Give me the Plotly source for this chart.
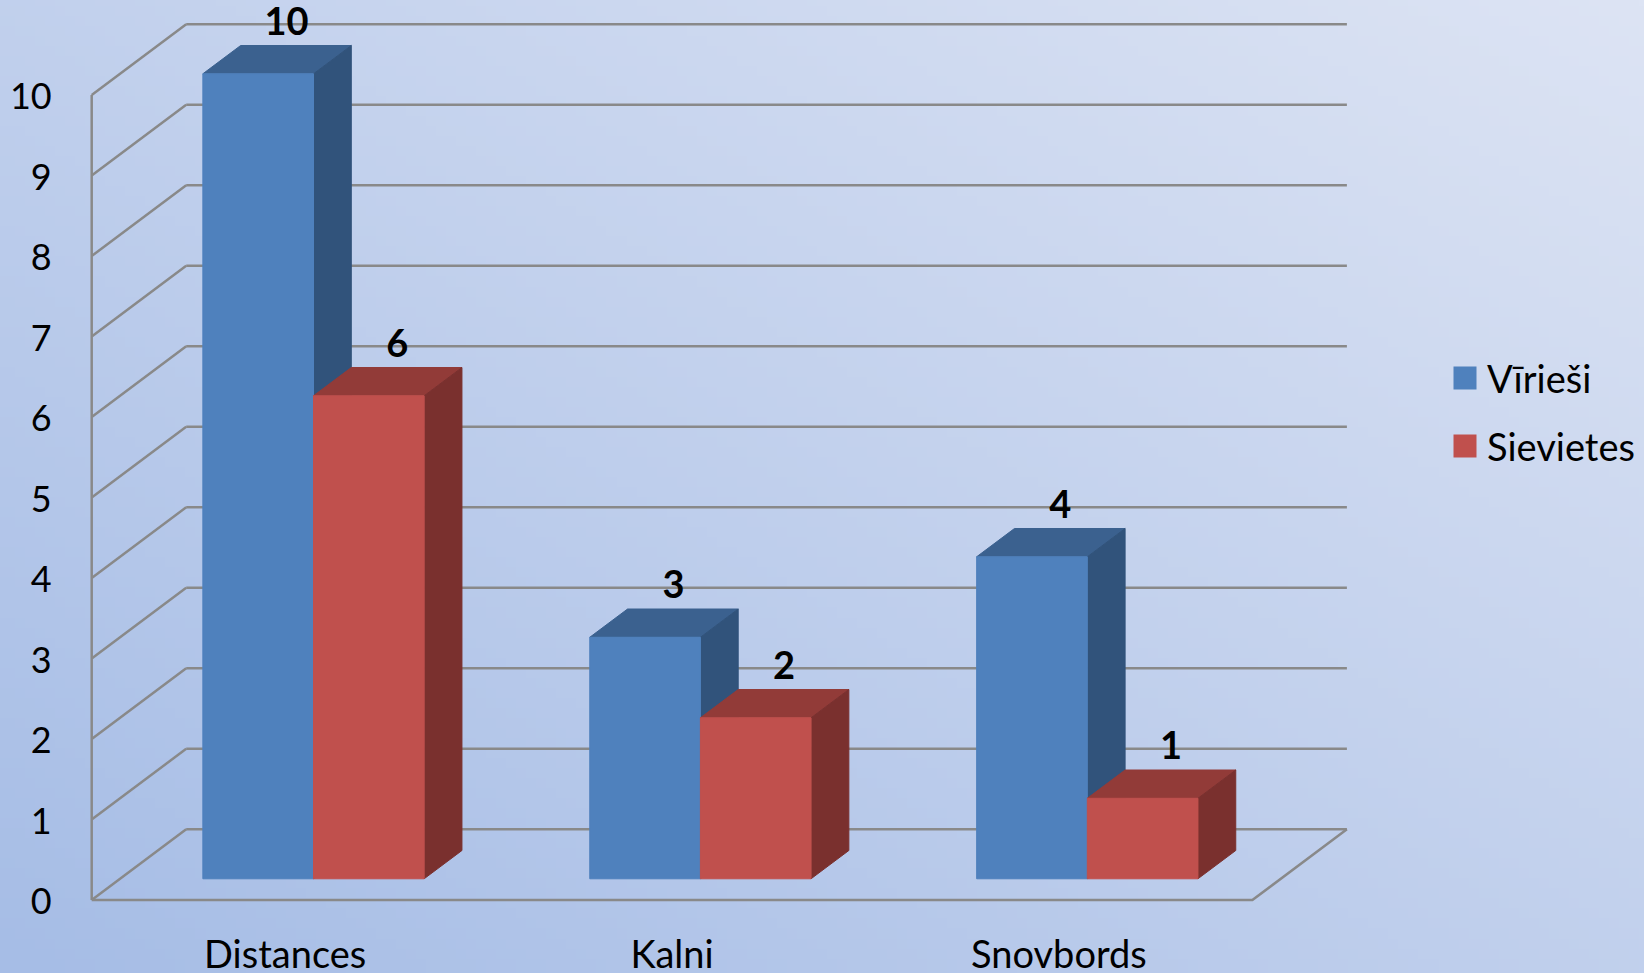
import base64
import struct
import zlib

import numpy as np
import plotly.graph_objects as go

# data
categories = ['Distances', 'Kalni', 'Snovbords']
series_names = ['Vīrieši', 'Sievietes']
virieši = [10, 3, 4]
sievietes = [6, 2, 1]
y_ticks = list(range(0, 11))

FONT = 'Lato'
W, H = 1644, 973

# front plane geometry (pixels)
X0_PX, Y0_PX = 91.7, 900.0
CAT_PX = 386.9        # width of one category on the front plane
UNIT_PX = 80.5        # height of one value unit
DEPTH_X = 94.5 / CAT_PX   # front -> back wall offset, in data units
DEPTH_Y = 70.7 / UNIT_PX
BAR_D0, BAR_D1 = 0.30, 0.70   # bar depth span (fraction of the box)
BAR_W = 0.286
BAR_GAP = (1 - 2 * BAR_W) / 2

GRID_COLOR = '#898989'
FACE_COLORS = {
    'Vīrieši': dict(front='#4f81bd', top='#3b618f', side='#31537b'),
    'Sievietes': dict(front='#c0504d', top='#923b38', side='#7a302e'),
}


def gradient_png(w, h, c_bl, c_tr):
    """Diagonal gradient (bottom-left -> top-right) as a PNG data uri."""
    u = np.linspace(0, 1, w)[None, :]
    v = np.linspace(1, 0, h)[:, None]
    t = (u + v) / 2
    c_bl = np.array(c_bl, dtype=float)
    c_tr = np.array(c_tr, dtype=float)
    img = c_bl + (c_tr - c_bl) * t[..., None]
    img = np.clip(img, 0, 255).astype(np.uint8)
    raw = b''.join(b'\x00' + row.tobytes() for row in img)

    def chunk(tag, data):
        body = tag + data
        return struct.pack('>I', len(data)) + body + struct.pack('>I', zlib.crc32(body) & 0xffffffff)

    png = b'\x89PNG\r\n\x1a\n'
    png += chunk(b'IHDR', struct.pack('>IIBBBBB', w, h, 8, 2, 0, 0, 0))
    png += chunk(b'IDAT', zlib.compress(raw, 9))
    png += chunk(b'IEND', b'')
    return 'data:image/png;base64,' + base64.b64encode(png).decode()


def polys_to_xy(polys):
    xs, ys = [], []
    for poly in polys:
        for px, py in poly:
            xs.append(px)
            ys.append(py)
        xs.append(poly[0][0])
        ys.append(poly[0][1])
        xs.append(None)
        ys.append(None)
    return xs, ys


def bar_faces(left, value):
    d0x, d0y = BAR_D0 * DEPTH_X, BAR_D0 * DEPTH_Y
    ddx, ddy = (BAR_D1 - BAR_D0) * DEPTH_X, (BAR_D1 - BAR_D0) * DEPTH_Y
    a0, a1 = left + d0x, left + BAR_W + d0x
    top_y = value + d0y
    front = [(a0, d0y), (a1, d0y), (a1, top_y), (a0, top_y)]
    top = [(a0, top_y), (a1, top_y), (a1 + ddx, top_y + ddy), (a0 + ddx, top_y + ddy)]
    side = [(a1, d0y), (a1 + ddx, d0y + ddy), (a1 + ddx, top_y + ddy), (a1, top_y)]
    return front, top, side


fig = go.Figure()

# back wall grid lines + left wall diagonals + floor
n_cat = len(categories)
lines = []
for v in y_ticks:
    lines.append([(DEPTH_X, v + DEPTH_Y), (n_cat + DEPTH_X, v + DEPTH_Y)])
    lines.append([(0, v), (DEPTH_X, v + DEPTH_Y)])
lines.append([(0, y_ticks[0]), (0, y_ticks[-1])])
lines.append([(0, 0), (n_cat, 0), (n_cat + DEPTH_X, DEPTH_Y)])
lx, ly = [], []
for seg in lines:
    for px, py in seg:
        lx.append(px)
        ly.append(py)
    lx.append(None)
    ly.append(None)
fig.add_trace(go.Scatter(
    x=lx, y=ly, mode='lines',
    line=dict(color=GRID_COLOR, width=2.5),
    hoverinfo='skip', showlegend=False
))

# 3D bars, drawn back to front (blue then red in each category)
series = [('Vīrieši', virieši), ('Sievietes', sievietes)]
for k, (name, values) in enumerate(series):
    fronts, tops, sides = [], [], []
    for i, val in enumerate(values):
        left = i + BAR_GAP + k * BAR_W
        f, t, s = bar_faces(left, val)
        fronts.append(f)
        tops.append(t)
        sides.append(s)
    for face, polys in (('top', tops), ('side', sides), ('front', fronts)):
        xs, ys = polys_to_xy(polys)
        fig.add_trace(go.Scatter(
            x=xs, y=ys, mode='lines', fill='toself',
            fillcolor=FACE_COLORS[name][face],
            line=dict(color=FACE_COLORS[name][face], width=1),
            name=name, hoverinfo='skip', showlegend=False
        ))

# value labels
lab_x, lab_y, lab_t = [], [], []
for k, (name, values) in enumerate(series):
    for i, val in enumerate(values):
        lab_x.append(i + BAR_GAP + k * BAR_W + BAR_W / 2 + 0.6 * DEPTH_X)
        lab_y.append(val + BAR_D1 * DEPTH_Y + 0.25)
        lab_t.append(str(val))
fig.add_trace(go.Scatter(
    x=lab_x, y=lab_y, mode='text', text=lab_t, textposition='middle center',
    textfont=dict(family=FONT, size=38, color='black', weight='bold'),
    hoverinfo='skip', showlegend=False, cliponaxis=False
))

# value axis labels
fig.add_trace(go.Scatter(
    x=[-40 / CAT_PX] * len(y_ticks), y=[v - 5 / UNIT_PX for v in y_ticks], mode='text',
    text=[str(v) for v in y_ticks], textposition='middle left',
    textfont=dict(family=FONT, size=36, color='black'),
    hoverinfo='skip', showlegend=False
))

# category labels
fig.add_trace(go.Scatter(
    x=[i + 0.5 for i in range(n_cat)], y=[-58 / UNIT_PX] * n_cat, mode='text',
    text=categories, textposition='middle center',
    textfont=dict(family=FONT, size=38, color='black'),
    hoverinfo='skip', showlegend=False, cliponaxis=False
))

# legend (manual, to get the large square swatches)
legend_rows = [(378, FACE_COLORS['Vīrieši']['front']), (446, FACE_COLORS['Sievietes']['front'])]
for (cy, color), name in zip(legend_rows, series_names):
    fig.add_shape(
        type='rect', xref='paper', yref='paper',
        x0=1453.5 / W, x1=1476.5 / W,
        y0=1 - (cy - 11.5) / H, y1=1 - (cy + 11.5) / H,
        fillcolor=color, line=dict(width=0)
    )
    fig.add_annotation(
        xref='paper', yref='paper', x=1485 / W, y=1 - cy / H,
        text=name, showarrow=False, xanchor='left', yanchor='middle',
        font=dict(family=FONT, size=38, color='black')
    )

fig.add_layout_image(
    source=gradient_png(164, 97, (166, 189, 230), (221, 228, 244)),
    xref='paper', yref='paper', x=0, y=1, sizex=1, sizey=1,
    xanchor='left', yanchor='top', sizing='stretch', layer='below'
)

fig.update_layout(
    width=W, height=H, autosize=False,
    margin=dict(l=0, r=0, t=0, b=0),
    paper_bgcolor='#c2d0ed',
    plot_bgcolor='rgba(0,0,0,0)',
    showlegend=False,
    xaxis=dict(range=[-X0_PX / CAT_PX, (W - X0_PX) / CAT_PX], visible=False, fixedrange=True),
    yaxis=dict(range=[(Y0_PX - H) / UNIT_PX, Y0_PX / UNIT_PX], visible=False, fixedrange=True),
)

# page body margin would shift the fixed-size figure
fig.write_html(
    "out.html",
    config={'displayModeBar': False},
    post_script="document.body.style.margin='0';document.body.style.overflow='hidden';"
)
